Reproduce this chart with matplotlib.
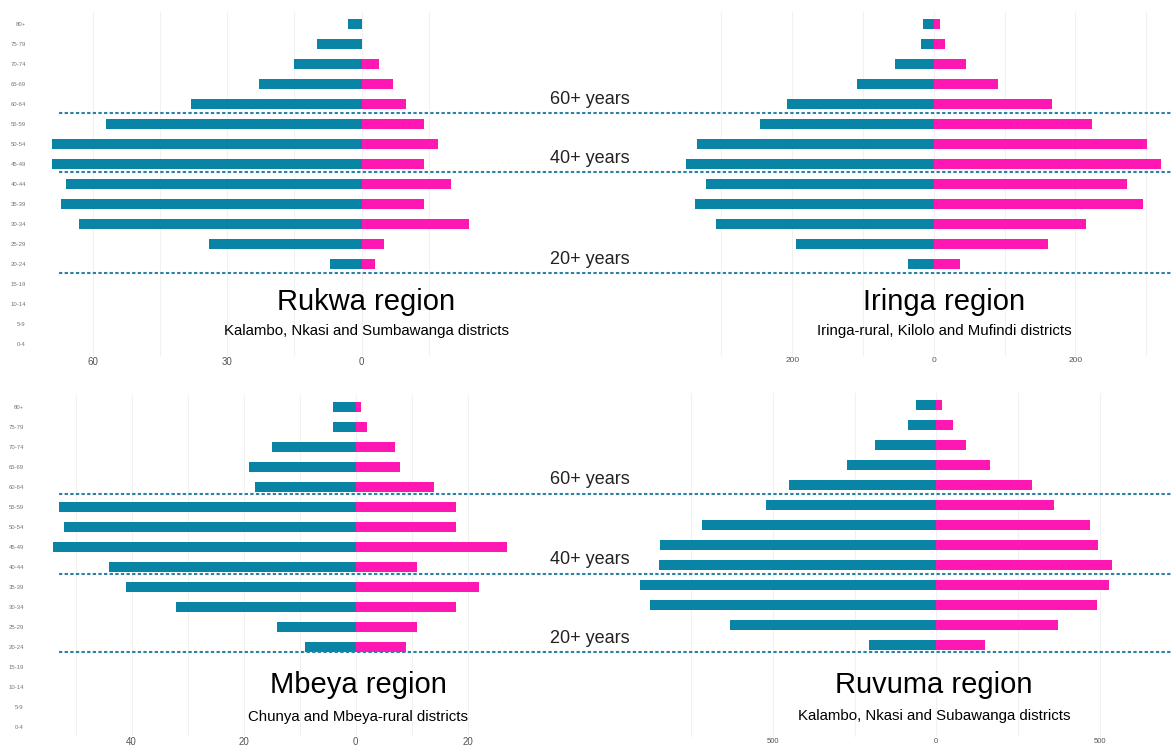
import matplotlib.pyplot as plt
from matplotlib.lines import Line2D
from matplotlib.ticker import FixedLocator, FuncFormatter
from matplotlib.transforms import blended_transform_factory

plt.rcParams['font.family'] = ['Liberation Sans', 'DejaVu Sans']

# age groups, youngest first
ages = ["0-4", "5-9", "10-14", "15-19", "20-24", "25-29", "30-34", "35-39",
        "40-44", "45-49", "50-54", "55-59", "60-64", "65-69", "70-74", "75-79", "80+"]

rukwa_left = [0, 0, 0, 0, 7, 34, 63, 67, 66, 69, 69, 57, 38, 23, 15, 10, 3]
rukwa_right = [0, 0, 0, 0, 3, 5, 24, 14, 20, 14, 17, 14, 10, 7, 4, 0, 0]

iringa_left = [0, 0, 0, 0, 37, 194, 307, 337, 322, 350, 335, 245, 208, 109, 55, 18, 15]
iringa_right = [0, 0, 0, 0, 37, 162, 215, 296, 273, 321, 301, 224, 167, 91, 45, 16, 9]

mbeya_left = [0, 0, 0, 0, 9, 14, 32, 41, 44, 54, 52, 53, 18, 19, 15, 4, 4]
mbeya_right = [0, 0, 0, 0, 9, 11, 18, 22, 11, 27, 18, 18, 14, 8, 7, 2, 1]

ruvuma_left = [0, 0, 0, 0, 207, 632, 876, 907, 848, 846, 717, 520, 452, 274, 188, 85, 62]
ruvuma_right = [0, 0, 0, 0, 148, 373, 491, 527, 537, 496, 470, 359, 292, 165, 92, 50, 18]

titles = ["Rukwa region", "Iringa region", "Mbeya region", "Ruvuma region"]
subtitles = ["Kalambo, Nkasi and Sumbawanga districts",
             "Iringa-rural, Kilolo and Mufindi districts",
             "Chunya and Mbeya-rural districts",
             "Kalambo, Nkasi and Subawanga districts"]

band_labels = ["60+ years", "40+ years", "20+ years"]

TEAL = "#0a84a5"
PINK = "#ff17b4"
LINE = "#2b82a6"
GRID = "#f1f1f1"

W, H = 1171, 747
fig = plt.figure(figsize=(W / 100, H / 100), dpi=100)


def rect(left, top, width, height):
    return [left / W, (H - top - height) / H, width / W, height / H]


# (rect in px, xlim, ylim bottom, major ticks, minor ticks, tick font size, show ages, data)
panels = [
    (rect(30, 12, 457, 344), (-74, 28), -0.6, [-60, -30, 0], [-45, -15, 15], 7, True,
     rukwa_left, rukwa_right),
    (rect(662, 12, 523, 344), (-384, 355), -0.6, [-200, 0, 200], [-300, -100, 100, 300], 6, False,
     iringa_left, iringa_right),
    (rect(28, 395, 490, 341), (-58.5, 29), -0.45, [-40, -20, 0, 20], [-50, -30, -10, 10], 7, True,
     mbeya_left, mbeya_right),
    (rect(616, 393, 518, 344), (-980, 605), -0.6, [-500, 0, 500], [-750, -250, 250], 5.5, False,
     ruvuma_left, ruvuma_right),
]

axes = []
y = list(range(len(ages)))
for r, xlim, ybot, major, minor, fs, show_ages, left, right in panels:
    ax = fig.add_axes(r)
    ax.barh(y, [-v for v in left], height=0.5, color=TEAL, linewidth=0)
    ax.barh(y, right, height=0.5, color=PINK, linewidth=0)
    ax.set_xlim(*xlim)
    ax.set_ylim(ybot, len(ages) - 0.4)
    ax.xaxis.set_major_locator(FixedLocator(major))
    ax.xaxis.set_minor_locator(FixedLocator(minor))
    ax.xaxis.set_major_formatter(FuncFormatter(lambda v, p: f"{abs(v):g}"))
    ax.grid(axis="x", which="both", color=GRID, linewidth=0.8)
    ax.set_axisbelow(True)
    ax.set_yticks(y)
    if show_ages:
        ax.set_yticklabels(ages, fontsize=4.3, color="#777777")
    else:
        ax.set_yticklabels([])
    ax.tick_params(axis="x", labelsize=fs, colors="#555555", length=0, pad=1)
    ax.tick_params(axis="x", which="minor", length=0)
    ax.tick_params(axis="y", length=0, pad=3)
    for s in ax.spines.values():
        s.set_visible(False)
    axes.append(ax)

# dashed age-band lines across the full width, in row units of the left panels
top_lines = [11.55, 8.6, 3.55]
bottom_lines = [11.65, 7.65, 3.73]
for ax, lines in [(axes[0], top_lines), (axes[2], bottom_lines)]:
    tr = blended_transform_factory(fig.transFigure, ax.transData)
    for yy, lab in zip(lines, band_labels):
        fig.add_artist(Line2D([59 / W, 1.0], [yy, yy], transform=tr, color=LINE,
                              linewidth=1.5, dashes=(1.6, 1.1)))
        fig.text(590 / W, yy + 0.7, lab, transform=tr, ha="center", va="center",
                 fontsize=13, color="#222222")

# region titles
title_pos = [(366, 302, 331), (944, 302, 331), (358, 685, 717), (934, 685, 716)]
for (x, ty, sy), t, s in zip(title_pos, titles, subtitles):
    fig.text(x / W, 1 - ty / H, t, ha="center", va="center", fontsize=21, color="black")
    fig.text(x / W, 1 - sy / H, s, ha="center", va="center", fontsize=10.8, color="black")

fig.savefig("out.png", dpi=100, facecolor="white")
